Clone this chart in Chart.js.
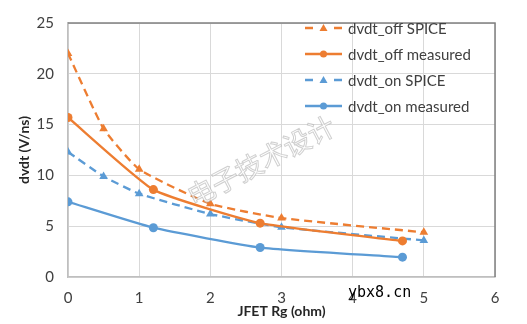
<!DOCTYPE html>
<html>
<head>
<meta charset="utf-8">
<script src="https://cdn.jsdelivr.net/npm/chart.js@4/dist/chart.umd.min.js"></script>
<style>
  html, body { margin: 0; padding: 0; background: #fff; }
  #wrap { width: 527px; height: 324px; position: relative; }
</style>
</head>
<body>
<div id="wrap"><canvas id="c" width="527" height="324"></canvas></div>
<script>
// Gate resistance sweep (ohm) and dv/dt results (V/ns)
const rgSpice     = [0, 0.5, 1, 2, 3, 5];
const offSpice    = [22, 14.6, 10.6, 7.2, 5.8, 4.4];
const onSpice     = [12.3, 9.9, 8.2, 6.2, 4.9, 3.6];
const rgMeasured  = [0, 1.2, 2.7, 4.7];
const offMeasured = [15.7, 8.6, 5.3, 3.55];
const onMeasured  = [7.4, 4.85, 2.9, 1.95];

const seriesNames = ['dvdt_off SPICE', 'dvdt_off measured', 'dvdt_on SPICE', 'dvdt_on measured'];
const xTicks = [0, 1, 2, 3, 4, 5, 6];
const yTicks = [0, 5, 10, 15, 20, 25];
const xTitle = 'JFET Rg (ohm)';
const yTitle = 'dvdt (V/ns)';

const ORANGE = '#ED7D31';
const BLUE = '#5B9BD5';
const FONT = 'Lato, "Liberation Sans", sans-serif';

const pts = (xs, ys) => xs.map((x, i) => ({ x: x, y: ys[i] }));

function series(label, data, color, dashed, marker) {
  return {
    label: label,
    data: data,
    borderColor: color,
    backgroundColor: color,
    borderWidth: 2.3,
    borderDash: dashed ? [8, 5] : [],
    pointStyle: marker,
    pointRadius: marker === 'triangle' ? 5 : 4.5,
    pointBorderWidth: 0,
    pointBackgroundColor: color,
    tension: 0.15,
    fill: false
  };
}

// Legend, axis titles and overlay text drawn directly on the canvas
const overlay = {
  id: 'overlay',
  afterDatasetsDraw(chart) {
    const ctx = chart.ctx;
    const area = chart.chartArea;
    ctx.save();

    // plot frame: top and right edges
    ctx.strokeStyle = '#808080';
    ctx.lineWidth = 1.5;
    ctx.beginPath();
    ctx.moveTo(area.left, area.top);
    ctx.lineTo(area.right, area.top);
    ctx.lineTo(area.right, area.bottom);
    ctx.stroke();

    // legend
    const x0 = 305, x1 = 342, tx = 348, y0 = 28, dy = 26;
    chart.data.datasets.forEach((ds, i) => {
      const y = y0 + i * dy;
      ctx.strokeStyle = ds.borderColor;
      ctx.lineWidth = 2.3;
      ctx.setLineDash([]);
      ctx.beginPath();
      if (ds.borderDash.length) {
        ctx.moveTo(x0, y); ctx.lineTo(x0 + 8, y);
        ctx.moveTo(x1 - 8, y); ctx.lineTo(x1, y);
      } else {
        ctx.moveTo(x0, y); ctx.lineTo(x1, y);
      }
      ctx.stroke();
      const cx = (x0 + x1) / 2;
      ctx.fillStyle = ds.borderColor;
      ctx.beginPath();
      if (ds.pointStyle === 'triangle') {
        ctx.moveTo(cx, y - 4); ctx.lineTo(cx + 4, y + 3); ctx.lineTo(cx - 4, y + 3);
        ctx.closePath();
      } else {
        ctx.arc(cx, y, 3.5, 0, Math.PI * 2);
      }
      ctx.fill();
      ctx.fillStyle = '#404040';
      ctx.font = '15px ' + FONT;
      ctx.textAlign = 'left';
      ctx.textBaseline = 'middle';
      ctx.fillText(ds.label, tx, y + 1);
    });

    // axis titles
    ctx.fillStyle = '#262626';
    ctx.font = 'bold 14px ' + FONT;
    ctx.textAlign = 'center';
    ctx.textBaseline = 'middle';
    ctx.fillText(xTitle, (area.left + area.right) / 2, 311);
    ctx.save();
    ctx.translate(24, (area.top + area.bottom) / 2);
    ctx.rotate(-Math.PI / 2);
    ctx.fillText(yTitle, 0, 0);
    ctx.restore();

    // site marks
    ctx.save();
    ctx.translate(261, 161);
    ctx.rotate(-0.48);
    ctx.font = '27px "Noto Sans CJK SC", sans-serif';
    ctx.textAlign = 'center';
    ctx.textBaseline = 'middle';
    ctx.lineWidth = 1;
    ctx.strokeStyle = 'rgba(160,160,160,0.5)';
    ctx.fillStyle = 'rgba(255,255,255,0.7)';
    ctx.fillText('电子技术设计', 0, 0);
    ctx.strokeText('电子技术设计', 0, 0);
    ctx.restore();

    ctx.fillStyle = '#000';
    ctx.font = '15px "DejaVu Sans Mono", monospace';
    ctx.textAlign = 'left';
    ctx.textBaseline = 'middle';
    ctx.fillText('ybx8.cn', 348, 293);

    ctx.restore();
  }
};

new Chart(document.getElementById('c'), {
  type: 'line',
  data: {
    datasets: [
      series(seriesNames[0], pts(rgSpice, offSpice), ORANGE, true, 'triangle'),
      series(seriesNames[1], pts(rgMeasured, offMeasured), ORANGE, false, 'circle'),
      series(seriesNames[2], pts(rgSpice, onSpice), BLUE, true, 'triangle'),
      series(seriesNames[3], pts(rgMeasured, onMeasured), BLUE, false, 'circle')
    ]
  },
  options: {
    responsive: false,
    animation: false,
    layout: { padding: { top: 14, right: 32, left: 0, bottom: 0 } },
    plugins: { legend: { display: false }, tooltip: { enabled: false } },
    scales: {
      x: {
        type: 'linear',
        min: xTicks[0],
        max: xTicks[xTicks.length - 1],
        afterBuildTicks: s => { s.ticks = xTicks.map(v => ({ value: v })); },
        afterFit: s => { s.height = 47; },
        grid: { color: '#d9d9d9', lineWidth: 1, drawTicks: false },
        border: { color: '#bfbfbf', width: 1.5 },
        ticks: { padding: 12, color: '#404040', font: { family: FONT, size: 15 } }
      },
      y: {
        min: yTicks[0],
        max: yTicks[yTicks.length - 1],
        afterBuildTicks: s => { s.ticks = yTicks.map(v => ({ value: v })); },
        afterFit: s => { s.width = 68; },
        grid: { color: '#d9d9d9', lineWidth: 1, drawTicks: false },
        border: { color: '#bfbfbf', width: 1.5 },
        ticks: { padding: 14, color: '#404040', font: { family: FONT, size: 15 } }
      }
    }
  },
  plugins: [overlay]
});
</script>
</body>
</html>
